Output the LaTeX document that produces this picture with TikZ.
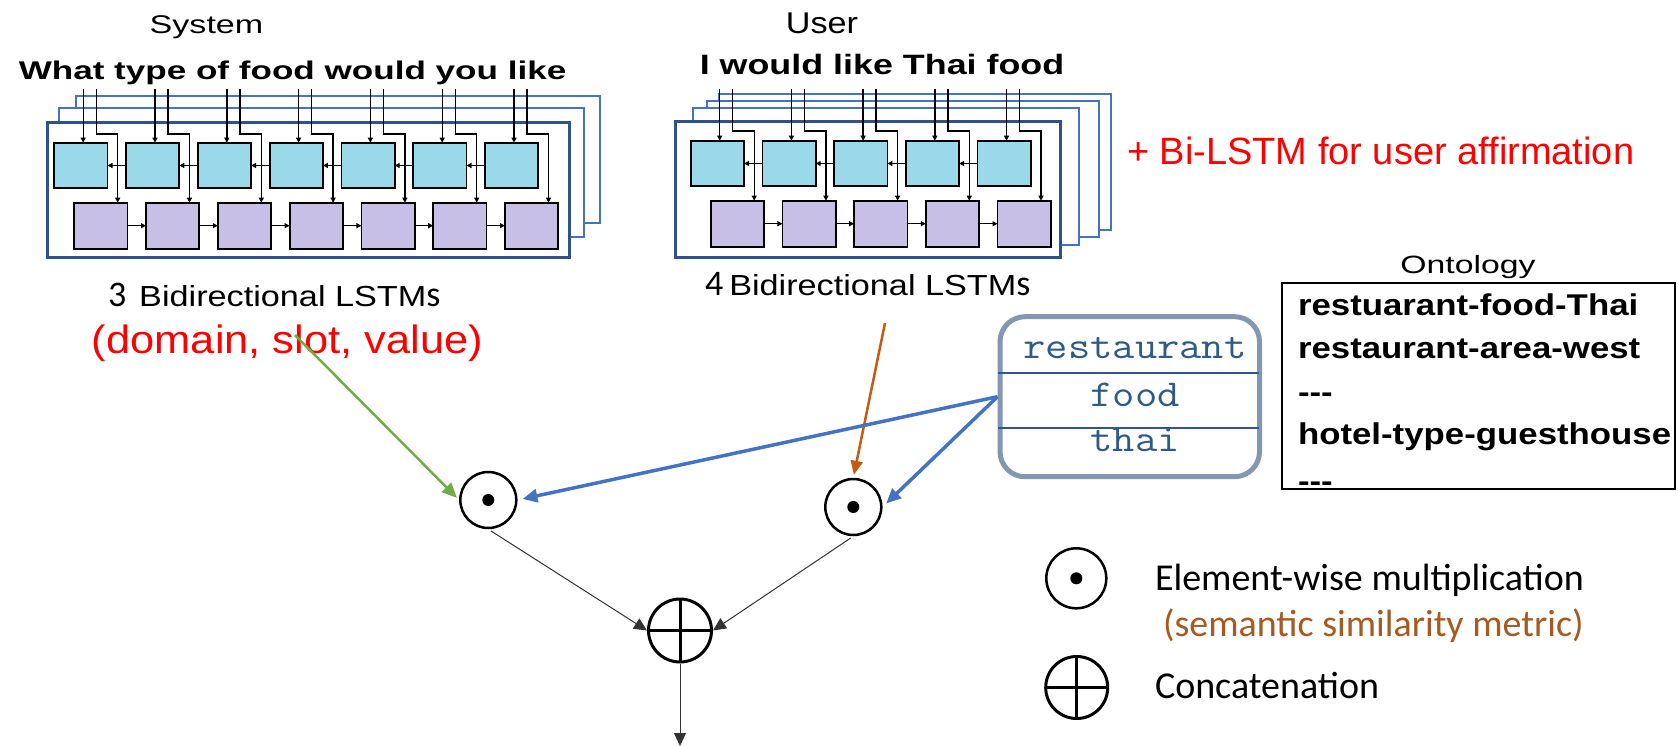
\documentclass[tikz,border=0pt]{standalone}
\usepackage{fontspec}
\usepackage{graphicx}
\usetikzlibrary{arrows.meta}
\newfontfamily\arialf{Liberation Sans}
\newfontfamily\calibrif{Carlito}
\newcommand\myfs[1]{\fontsize{#1pt}{#1pt}\selectfont}
\newcommand\tripdash{-\kern0pt-\kern0pt-}
\definecolor{cellblue}{HTML}{99D9EA}
\definecolor{celllav}{HTML}{C8BFE7}
\definecolor{frontnavy}{HTML}{2F528F}
\definecolor{backblue}{HTML}{4472C4}
\definecolor{arrowblue}{HTML}{4472C4}
\definecolor{arrowgreen}{HTML}{70AD47}
\definecolor{arrowbrown}{HTML}{C55A11}
\definecolor{metricbrown}{HTML}{A65A22}
\definecolor{slotframe}{HTML}{8497B0}
\definecolor{slotline}{HTML}{2F5597}
\definecolor{slottext}{HTML}{2E5A88}

\tikzset{
  cellA/.style={draw=black, line width=1.8pt, fill=cellblue},
  cellB/.style={draw=black, line width=1.8pt, fill=celllav},
  wire/.style={draw=black, line width=1.4pt, -{Triangle[length=5pt,width=5pt]}},
  backframe/.style={draw=backblue, line width=2pt, fill=white},
  frontframe/.style={draw=frontnavy, line width=2.5pt, fill=white},
  txt/.style={inner sep=0pt, outer sep=0pt},
  opdot/.style={circle, draw=black, line width=2.5pt, minimum size=56pt, inner sep=0pt},
  opplus/.style={circle, draw=black, line width=3pt, minimum size=63pt, inner sep=0pt,
    path picture={\draw[line width=3pt]
      (path picture bounding box.north) -- (path picture bounding box.south)
      (path picture bounding box.west) -- (path picture bounding box.east);}},
  garrow/.style={draw=arrowgreen, line width=2.5pt, -{Triangle[length=15pt,width=13pt]}},
  barrow/.style={draw=arrowblue, line width=3.5pt, -{Triangle[length=15pt,width=13pt]}},
  brarrow/.style={draw=arrowbrown, line width=2.5pt, -{Triangle[length=14pt,width=12pt]}},
  karrow/.style={draw=black!80, line width=1pt, -{Triangle[length=13pt,width=12pt]}}
}

% one row of backward cells over one row of forward cells, with input wires
% #1 last index, #2 left of first upper cell, #3 top of upper row, #4 pitch, #5 wire bend height
\newcommand\lstmcells[5]{%
  \foreach \i in {0,...,#1}{
    \pgfmathsetmacro\bx{#2+#4*\i}
    \pgfmathsetmacro\px{\bx+20}
    \draw[cellA] (\bx,#3) rectangle ++(53.3,45.6);
    \draw[cellB] (\px,#3+60) rectangle ++(53.3,46);
    \draw[wire] (\bx+29,89) -- (\bx+29,#3);
    \draw[wire] (\bx+42,89) -- (\bx+42,#5) -- (\px+43.5,#5) -- (\px+43.5,#3+60);
  }
  \foreach \i in {1,...,#1}{
    \pgfmathsetmacro\bx{#2+#4*\i}
    \pgfmathsetmacro\bp{#2+#4*(\i-1)}
    \draw[wire] (\bx,#3+22.8) -- (\bp+53.3,#3+22.8);
    \draw[wire] (\bp+73.3,#3+83) -- (\bx+20,#3+83);
  }
}

\begin{document}
\begin{tikzpicture}[x=1pt,y=-1pt]
\useasboundingbox (0,0) rectangle (1678,746);

% ---- system utterance encoder: three stacked Bi-LSTMs
\draw[backframe] (75.9,95.7) rectangle (600.2,222.7);
\draw[backframe] (59.3,108.3) rectangle (584.4,237.3);
\draw[frontframe] (47.4,122.7) rectangle (569.4,257.3);
\lstmcells{6}{54.2}{142.7}{71.8}{134}

\node[txt, anchor=base, font=\arialf\myfs{25.6}] (systitle) at (206.5,33.3) {\scalebox{1.33}[1]{System}};
\node[txt, anchor=base, font=\arialf\bfseries\myfs{25.6}] (sysutt) at (292.5,80) {\scalebox{1.37}[1]{What type of food would you like}};

% ---- user utterance encoder: four stacked Bi-LSTMs
\draw[backframe] (719,94) rectangle (1111.3,230);
\draw[backframe] (706.7,101) rectangle (1099.3,237.3);
\draw[backframe] (693.3,108.3) rectangle (1079.3,245);
\draw[frontframe] (675.7,121.7) rectangle (1060.7,257.3);
\lstmcells{4}{690.7}{140.7}{71.7}{131}

\node[txt, anchor=base, font=\arialf\myfs{30}] (usertitle) at (822,33.3) {\scalebox{1.14}[1]{User}};
\node[txt, anchor=base, font=\arialf\bfseries\myfs{28}] (userutt) at (882,75) {\scalebox{1.28}[1]{I would like Thai food}};

\node[txt, anchor=base west, font=\arialf\myfs{38}, text=red] (affirm) at (1127,165) {+ Bi-LSTM for user affirmation};

% ---- captions under the encoders
\node[txt, anchor=base west] (syscap) at (108,306.7)
  {{\calibrif\myfs{36}3}\hspace{13pt}{\arialf\myfs{29}\scalebox{1.18}[1]{Bidirectional LSTM}}{\calibrif\myfs{36}s}};
\node[txt, anchor=base, font=\arialf\myfs{39.5}, text=red] (dsv) at (287.5,353.3) {\scalebox{1.1}[1]{(domain, slot, value)}};
\node[txt, anchor=base west] (usercap) at (705,295)
  {{\calibrif\myfs{36}4}\hspace{6pt}{\arialf\myfs{29}\scalebox{1.18}[1]{Bidirectional LSTM}}{\calibrif\myfs{36}s}};

% ---- ontology
\node[txt, anchor=base, font=\arialf\myfs{25}] (ontotitle) at (1468,273) {\scalebox{1.35}[1]{Ontology}};
\node[draw=black, line width=2pt, minimum width=393.5pt, minimum height=206pt, inner sep=0pt] (onto) at (1478.55,386.3) {};
\foreach \entry/\yy [count=\k] in {restuarant-food-Thai/315, restaurant-area-west/358, \tripdash/402, hotel-type-guesthouse/444, \tripdash/491}
  \node[txt, anchor=base west, font=\arialf\bfseries\myfs{30}] (ontoline\k) at (1298,\yy) {\scalebox{1.16}[1]{\entry}};

% ---- candidate slot triple
\node[draw=slotframe, line width=5pt, rounded corners=25pt, minimum width=259.5pt, minimum height=160pt, inner sep=0pt] (slots) at (1129.75,396.7) {};
\draw[slotline, line width=2pt] (998,373.3) -- (1259,373.3);
\draw[slotline, line width=2pt] (998,428.3) -- (1259,428.3);
\node[txt, anchor=base, font=\ttfamily\myfs{38}, text=slottext] (sdomain) at (1135,358) {\scalebox{1.14}[1]{restaurant}};
\node[txt, anchor=base, font=\ttfamily\myfs{38}, text=slottext] (sslot) at (1135,406.7) {\scalebox{1.14}[1]{food}};
\node[txt, anchor=base, font=\ttfamily\myfs{38}, text=slottext] (svalue) at (1135,451.7) {\scalebox{1.14}[1]{thai}};

% ---- similarity and concatenation
\node[opdot] (dot1) at (488.3,500) {};
\fill (dot1.center) circle (6pt);
\node[opdot] (dot2) at (853.3,507) {};
\fill (dot2.center) circle (6pt);
\node[opplus] (cat) at (680,630.5) {};

\coordinate (gstart) at (295,335);
\coordinate (ustart) at (885,323);
\coordinate (out) at (680,746);

\draw[garrow, shorten >=3pt] (gstart) -- (dot1.west);
\draw[brarrow, shorten >=3pt] (ustart) -- (dot2.north);
\draw[barrow, shorten >=5pt] (slots.west) -- (dot1.east);
\draw[barrow, shorten >=5pt] (slots.west) -- (dot2.east);
\draw[karrow, shorten <=3pt] (dot1.south) -- (cat.west);
\draw[karrow, shorten <=3pt] (dot2.south) -- (cat.east);
\draw[karrow] (cat.south) -- (out);

% ---- legend
\node[opdot, minimum size=60pt] (ldot) at (1076.3,578.3) {};
\fill (ldot.center) circle (6pt);
\node[opplus, minimum size=62pt] (lcat) at (1076.7,687.5) {};
\node[txt, anchor=base west, font=\calibrif\myfs{38}] (lmul) at (1155,590) {Element-wise multiplication};
\node[txt, anchor=base west, font=\calibrif\myfs{38}, text=metricbrown] (lsim) at (1163,636.7) {(semantic similarity metric)};
\node[txt, anchor=base west, font=\calibrif\myfs{38}] (lcon) at (1155,698.3) {Concatenation};
\end{tikzpicture}
\end{document}
